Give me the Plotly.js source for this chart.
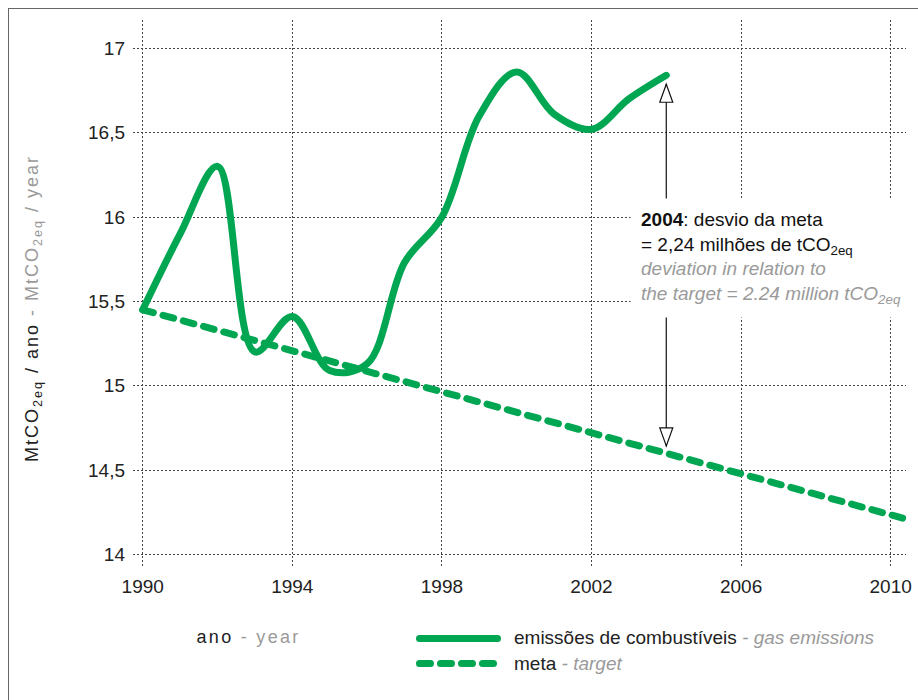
<!DOCTYPE html>
<html>
<head>
<meta charset="utf-8">
<script src="https://cdn.plot.ly/plotly-3.0.1.min.js"></script>
<style>
  html, body { margin: 0; padding: 0; background: #fff; }
  #chart { width: 918px; height: 700px; }
  #frame { position: absolute; left: 8px; top: 8px; width: 910px; height: 692px;
           border-left: 1px solid #666; border-top: 1px solid #666; pointer-events: none; }
  .scatterlayer .js-line { stroke-linecap: round; }
  .shapelayer path { stroke-linecap: round; }
  .annotation[data-index="0"] text { letter-spacing: 2px; }
  .annotation[data-index="1"] text { letter-spacing: 2.3px; }
</style>
</head>
<body>
<div id="chart"></div>
<div id="frame"></div>
<script>
// ---- data ----
const years = [1990, 1991, 1992, 1993, 1994, 1995, 1996, 1997, 1998, 1999, 2000, 2001, 2002, 2003, 2004];
const emissions = [15.45, 15.9, 16.3, 15.2, 15.41, 15.09, 15.13, 15.73, 16.0, 16.6, 16.86, 16.61, 16.52, 16.7, 16.84];
const targetYears = [1990, 2010.4];
const targetValues = [15.45, 14.21];
const deviationYear = 2004;
const deviationTop = 16.787;     // arrow tip near emission value
const deviationBottom = 14.643;  // arrow tip near target value
const xTicks = [1990, 1994, 1998, 2002, 2006, 2010];
const yTicks = [14, 14.5, 15, 15.5, 16, 16.5, 17];
const yTickText = ['14', '14,5', '15', '15,5', '16', '16,5', '17'];

const GREEN = '#00a651';
const GREY = '#9a9a9a';
const FONT = 'Liberation Sans, Arial, Helvetica, sans-serif';

// pixel -> paper helpers for the layout (plot area: x 133..906, y 20..568)
const L = 133, R = 12, T = 20, B = 132, W = 918, H = 700;
const pw = W - L - R, ph = H - T - B;
const px = x => (x - L) / pw;
const py = y => (H - B - y) / ph;

const traces = [
  {
    x: targetYears, y: targetValues, type: 'scatter', mode: 'lines',
    line: { color: GREEN, width: 7, dash: '11px,10px' },
    name: 'meta - target', showlegend: false, hoverinfo: 'skip'
  },
  {
    x: years, y: emissions, type: 'scatter', mode: 'lines',
    line: { color: GREEN, width: 7, shape: 'spline', smoothing: 1 },
    name: 'emissões de combustíveis - gas emissions', showlegend: false, hoverinfo: 'skip'
  }
];

const layout = {
  width: W, height: H,
  margin: { l: L, r: R, t: T, b: B },
  paper_bgcolor: '#fff', plot_bgcolor: '#fff',
  font: { family: FONT, size: 19, color: '#222' },
  showlegend: false,
  xaxis: {
    range: [1989.74, 2010.41],
    tickvals: xTicks, ticktext: xTicks.map(String),
    showgrid: true, gridcolor: '#444', gridwidth: 1, griddash: '2px,2px',
    zeroline: false, showline: false, ticks: '',
    ticklabelstandoff: 5,
    tickfont: { family: FONT, size: 19, color: '#222' }
  },
  yaxis: {
    range: [13.919, 17.168],
    tickvals: yTicks, ticktext: yTickText,
    showgrid: true, gridcolor: '#444', gridwidth: 1, griddash: '2px,2px',
    zeroline: false, showline: false, ticks: '',
    ticklabelstandoff: 7,
    tickfont: { family: FONT, size: 19, color: '#222' }
  },
  shapes: [
    // deviation arrow line
    { type: 'line', xref: 'x', yref: 'y', x0: deviationYear, x1: deviationYear,
      y0: deviationTop, y1: deviationBottom, line: { color: '#111', width: 1.2 } },
    // open arrowheads
    { type: 'path', xref: 'x', yref: 'y', xsizemode: 'pixel', ysizemode: 'pixel',
      xanchor: deviationYear, yanchor: deviationTop,
      path: 'M0,0 L-6.5,-18 L6.5,-18 Z', fillcolor: '#fff', line: { color: '#111', width: 1.2 } },
    { type: 'path', xref: 'x', yref: 'y', xsizemode: 'pixel', ysizemode: 'pixel',
      xanchor: deviationYear, yanchor: deviationBottom,
      path: 'M0,0 L-6.5,18 L6.5,18 Z', fillcolor: '#fff', line: { color: '#111', width: 1.2 } },
    // legend swatches
    { type: 'line', xref: 'paper', yref: 'paper', x0: px(419.5), x1: px(497.5), y0: py(638.5), y1: py(638.5),
      line: { color: GREEN, width: 7 } },
    { type: 'line', xref: 'paper', yref: 'paper', x0: px(419.5), x1: px(497.5), y0: py(663.5), y1: py(663.5),
      line: { color: GREEN, width: 7, dash: '11px,10px' } }
  ],
  annotations: [
    { // y axis title
      xref: 'paper', yref: 'paper', x: px(33), y: py(309), textangle: -90,
      showarrow: false, xanchor: 'center', yanchor: 'middle',
      font: { family: FONT, size: 18, color: '#222' },
      text: 'MtCO<sub>2eq</sub> / ano <span style="color:' + GREY + '">- MtCO<sub>2eq</sub> / year</span>'
    },
    { // x axis title
      xref: 'paper', yref: 'paper', x: px(206), y: py(637), xanchor: 'left', yanchor: 'middle',
      showarrow: false, font: { family: FONT, size: 18, color: '#222' },
      text: 'ano <span style="color:' + GREY + '">- year</span>'
    },
    { // deviation note
      xref: 'paper', yref: 'paper', x: px(630), y: py(198), xanchor: 'left', yanchor: 'top',
      showarrow: false, align: 'left', bgcolor: '#fff', borderpad: 10,
      font: { family: FONT, size: 19, color: '#111' },
      text: '<b>2004</b>: desvio da meta<br>= 2,24 milhões de tCO<sub>2eq</sub><br>' +
            '<span style="color:' + GREY + '"><i>deviation in relation to</i></span><br>' +
            '<span style="color:' + GREY + '"><i>the target = 2.24 million tCO<sub>2eq</sub></i></span>'
    },
    { // legend text 1
      xref: 'paper', yref: 'paper', x: px(512), y: py(637), xanchor: 'left', yanchor: 'middle',
      showarrow: false, font: { family: FONT, size: 19, color: '#222' },
      text: 'emissões de combustíveis <span style="color:' + GREY + '"><i>- gas emissions</i></span>'
    },
    { // legend text 2
      xref: 'paper', yref: 'paper', x: px(512), y: py(663), xanchor: 'left', yanchor: 'middle',
      showarrow: false, font: { family: FONT, size: 19, color: '#222' },
      text: 'meta <span style="color:' + GREY + '"><i>- target</i></span>'
    }
  ]
};

Plotly.newPlot('chart', traces, layout, { displayModeBar: false, staticPlot: true });
</script>
</body>
</html>
